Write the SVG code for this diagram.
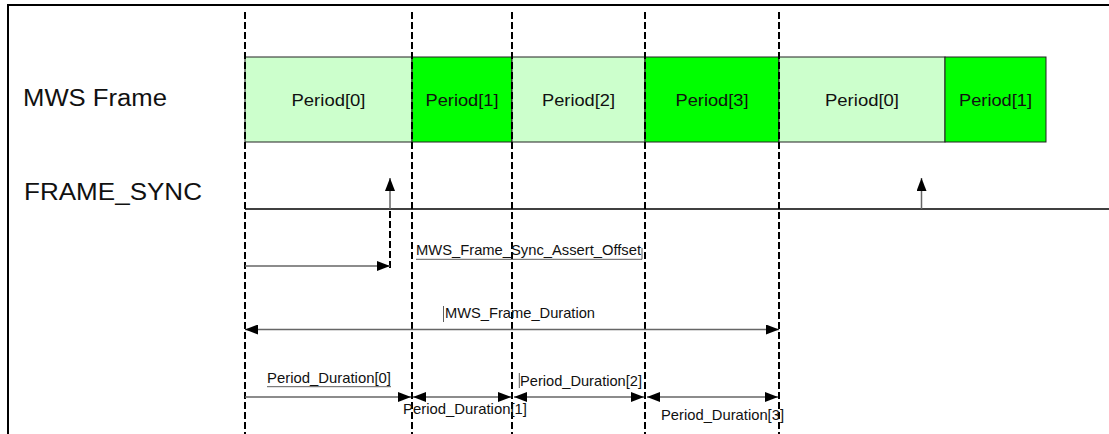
<svg xmlns="http://www.w3.org/2000/svg" width="1109" height="434" viewBox="0 0 1109 434">
<style>
text{font-family:"Liberation Sans",Arial,sans-serif;fill:#111}
.big{font-size:23px}
.per{font-size:17px;text-anchor:middle}
.sm{font-size:14.5px}
.light{fill:#CCFFCC;stroke:#222;stroke-width:1}
.dark{fill:#00FF00;stroke:#222;stroke-width:1}
.guide{stroke:#000;stroke-width:2;stroke-dasharray:7 3;fill:none}
.arr{stroke:#666;stroke-width:1.5;fill:none}
.tick{stroke:#333;stroke-width:0.8;fill:none}
</style>
<defs>
<marker id="ah" viewBox="0 0 13 10" refX="13" refY="5" markerWidth="13" markerHeight="10" markerUnits="userSpaceOnUse" orient="auto-start-reverse">
<path d="M0,0 L13,5 L0,10 Z" fill="#000"/>
</marker>
</defs>
<rect width="1109" height="434" fill="#fff"/>
<path d="M8,434 V5 H1109" fill="none" stroke="#000" stroke-width="2"/>

<g id="row-labels">
<text class="big" x="23" y="106" textLength="144" lengthAdjust="spacingAndGlyphs">MWS Frame</text>
<text class="big" x="24" y="200" textLength="178" lengthAdjust="spacingAndGlyphs">FRAME_SYNC</text>
</g>

<g id="p0a"><rect class="light" x="245" y="57" width="167" height="85"/><text class="per" x="328.5" y="106" textLength="74" lengthAdjust="spacingAndGlyphs">Period[0]</text></g>
<g id="p1a"><rect class="dark" x="412" y="57" width="100" height="85"/><text class="per" x="462" y="106" textLength="73" lengthAdjust="spacingAndGlyphs">Period[1]</text></g>
<g id="p2a"><rect class="light" x="512" y="57" width="133" height="85"/><text class="per" x="578.5" y="106" textLength="73" lengthAdjust="spacingAndGlyphs">Period[2]</text></g>
<g id="p3a"><rect class="dark" x="645" y="57" width="134" height="85"/><text class="per" x="712" y="106" textLength="73" lengthAdjust="spacingAndGlyphs">Period[3]</text></g>
<g id="p0b"><rect class="light" x="779" y="57" width="166" height="85"/><text class="per" x="862" y="106" textLength="74" lengthAdjust="spacingAndGlyphs">Period[0]</text></g>
<g id="p1b"><rect class="dark" x="945" y="57" width="101" height="85"/><text class="per" x="995.5" y="106" textLength="73" lengthAdjust="spacingAndGlyphs">Period[1]</text></g>

<g id="guides">
<line class="guide" x1="245" y1="12" x2="245" y2="434"/>
<line class="guide" x1="412" y1="12" x2="412" y2="434"/>
<line class="guide" x1="512" y1="12" x2="512" y2="434"/>
<line class="guide" x1="645" y1="12" x2="645" y2="434"/>
<line class="guide" x1="779" y1="12" x2="779" y2="434"/>
</g>

<g id="connectors">
<line x1="245" y1="209" x2="1109" y2="209" stroke="#000" stroke-width="1.5"/>
<line class="arr" x1="390" y1="209" x2="390" y2="178" marker-end="url(#ah)"/>
<line class="arr" x1="921.5" y1="209" x2="921.5" y2="178" marker-end="url(#ah)"/>
<line class="guide" x1="390" y1="211" x2="390" y2="270"/>
<line class="arr" x1="245" y1="266" x2="390" y2="266" marker-end="url(#ah)"/>
<line class="arr" x1="245" y1="329.5" x2="779" y2="329.5" marker-start="url(#ah)" marker-end="url(#ah)"/>
<line class="arr" x1="245" y1="397" x2="411" y2="397" marker-end="url(#ah)"/>
<line class="arr" x1="413" y1="397" x2="511" y2="397" marker-start="url(#ah)" marker-end="url(#ah)"/>
<line class="arr" x1="514" y1="397" x2="644" y2="397" marker-start="url(#ah)" marker-end="url(#ah)"/>
<line class="arr" x1="647" y1="397" x2="778" y2="397" marker-start="url(#ah)" marker-end="url(#ah)"/>
</g>

<g id="label-offset">
<text class="sm" x="416" y="255" textLength="225" lengthAdjust="spacingAndGlyphs">MWS_Frame_Sync_Assert_Offset</text>
<path class="tick" d="M416,259.3 H642 V248"/>
</g>
<g id="label-frame-duration">
<path class="tick" d="M443.5,306 V322"/>
<text class="sm" x="445" y="318.3" textLength="150" lengthAdjust="spacingAndGlyphs">MWS_Frame_Duration</text>
</g>
<g id="label-pd0">
<text class="sm" x="267" y="383.3" textLength="124" lengthAdjust="spacingAndGlyphs">Period_Duration[0]</text>
<path class="tick" d="M267,386.7 H391"/>
</g>
<g id="label-pd1">
<text class="sm" x="403" y="414" textLength="124" lengthAdjust="spacingAndGlyphs">Period_Duration[1]</text>
</g>
<g id="label-pd2">
<path class="tick" d="M519.3,373 V388"/>
<text class="sm" x="520" y="385.5" textLength="122" lengthAdjust="spacingAndGlyphs">Period_Duration[2]</text>
</g>
<g id="label-pd3">
<text class="sm" x="661" y="419.5" textLength="123" lengthAdjust="spacingAndGlyphs">Period_Duration[3]</text>
</g>
</svg>
